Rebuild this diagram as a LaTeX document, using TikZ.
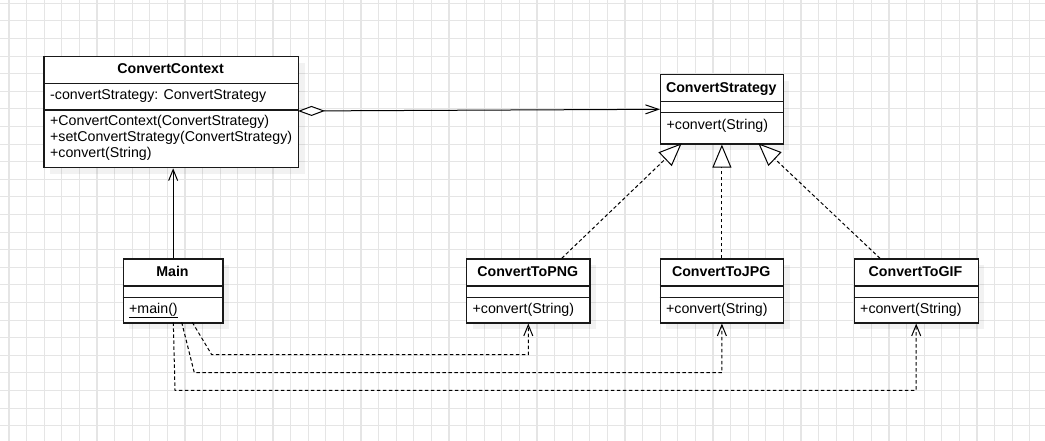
\documentclass[tikz,border=0pt]{standalone}
\usepackage{fontspec}
\setmainfont{Liberation Sans}
\usetikzlibrary{arrows.meta,shadows}

\begin{document}
\begin{tikzpicture}[x=1pt,y=-1pt,
  font=\fontsize{14.2}{16}\selectfont,
  gridline/.style={draw=black!10, line width=1.1pt},
  classbox/.style={draw=black!90, line width=1.3pt, fill=white, inner sep=0pt,
    anchor=north west,
    general shadow={fill=black, opacity=0.05, shadow xshift=6pt, shadow yshift=-6pt}},
  divider/.style={draw=black!90, line width=1.3pt},
  classname/.style={font=\fontsize{14.2}{16}\selectfont\bfseries, inner sep=0pt,
    text height=10.5pt, text depth=3pt},
  member/.style={anchor=west, inner sep=0pt, text height=10.5pt, text depth=3pt},
  connector/.style={draw=black, line width=1pt},
  dashedline/.style={connector, dash pattern=on 3.5pt off 2.5pt},
  openhead/.style={-{Straight Barb[length=11pt,width=9pt]}},
  realizes/.style={-{Triangle[fill=white,length=23pt,width=19pt]}},
]
% canvas and background grid
\useasboundingbox (0,0) rectangle (1045,441);
\fill[white] (0,0) rectangle (1045,441);
\foreach \i in {0,...,59} \draw[gridline] ({9+17.6*\i},0) -- ({9+17.6*\i},441);
\foreach \j in {0,...,24} \draw[gridline] (0,{3.3+17.6*\j}) -- (1045,{3.3+17.6*\j});

% ---- ConvertContext ----
\node[classbox, minimum width=254.7pt, minimum height=111pt] (ctx) at (43.3,56) {};
\draw[divider] (43.3,83.3) -- (298,83.3);
\draw[divider] (43.3,110) -- (298,110);
\node[classname] (ctxname) at (170.6,69.7) {ConvertContext};
\node[member] (ctxattr) at (50,96) {-convertStrategy: ConvertStrategy};
\node[member] (ctxm1) at (50,121.7) {+ConvertContext(ConvertStrategy)};
\node[member] (ctxm2) at (50,137.7) {+setConvertStrategy(ConvertStrategy)};
\node[member] (ctxm3) at (50,154) {+convert(String)};

% ---- ConvertStrategy ----
\node[classbox, minimum width=122.7pt, minimum height=69.3pt] (strat) at (660,74) {};
\draw[divider] (660,101.7) -- (782.7,101.7);
\draw[divider] (660,112.3) -- (782.7,112.3);
\node[classname] (stratname) at (721.3,88.5) {ConvertStrategy};
\node[member] (stratm) at (666.5,126) {+convert(String)};

% ---- Main ----
\node[classbox, minimum width=99.6pt, minimum height=64pt] (main) at (122.7,258.3) {};
\draw[divider] (122.7,286) -- (222.3,286);
\draw[divider] (122.7,297.3) -- (222.3,297.3);
\node[classname] (mainname) at (172.5,272.5) {Main};
\node[member] (mainm) at (129,309.5) {\underline{+main()}};

% ---- ConvertToPNG ----
\node[classbox, minimum width=123.3pt, minimum height=64pt] (png) at (466,258.3) {};
\draw[divider] (466,286) -- (589.3,286);
\draw[divider] (466,297.3) -- (589.3,297.3);
\node[classname] (pngname) at (527.7,272.5) {ConvertToPNG};
\node[member] (pngm) at (472.5,309.5) {+convert(String)};

% ---- ConvertToJPG ----
\node[classbox, minimum width=123.3pt, minimum height=64pt] (jpg) at (659.6,258.3) {};
\draw[divider] (659.6,286) -- (782.9,286);
\draw[divider] (659.6,297.3) -- (782.9,297.3);
\node[classname] (jpgname) at (721.2,272.5) {ConvertToJPG};
\node[member] (jpgm) at (666,309.5) {+convert(String)};

% ---- ConvertToGIF ----
\node[classbox, minimum width=123.9pt, minimum height=64pt] (gif) at (853.6,258.3) {};
\draw[divider] (853.6,286) -- (977.5,286);
\draw[divider] (853.6,297.3) -- (977.5,297.3);
\node[classname] (gifname) at (915.5,272.5) {ConvertToGIF};
\node[member] (gifm) at (860,309.5) {+convert(String)};

% ---- aggregation: ConvertContext <>-- ConvertStrategy ----
\coordinate (aggA) at (298,111);
\coordinate (aggB) at (660,109.3);
\draw[connector, {Diamond[fill=white,length=27pt,width=10pt]}-{Straight Barb[length=13pt,width=9pt]}]
  (aggA) -- (aggB);

% ---- association: Main --> ConvertContext ----
\draw[connector, openhead] (main.north) -- (main.north |- ctx.south);

% ---- realizations ----
\coordinate (pngtop) at (561.7,258.3);
\coordinate (strbotL) at (681.7,143.3);
\coordinate (giftop) at (880,258.3);
\coordinate (strbotR) at (758.3,143.3);
\draw[dashedline, realizes] (pngtop) -- (strbotL);
\draw[dashedline, realizes] (jpg.north) -- (jpg.north |- strat.south);
\draw[dashedline, realizes] (giftop) -- (strbotR);

% ---- dependencies from Main ----
\coordinate (mainA) at (192.3,322.3);
\coordinate (mainB) at (181.7,322.3);
\coordinate (mainC) at (173.3,322.3);
\draw[dashedline, openhead] (mainA) -- (211.7,354.7) -- (png.south |- 0,354.7) -- (png.south);
\draw[dashedline, openhead] (mainB) -- (194.3,372.7) -- (jpg.south |- 0,372.7) -- (jpg.south);
\draw[dashedline, openhead] (mainC) -- (175,390.3) -- (gif.south |- 0,390.3) -- (gif.south);
\end{tikzpicture}
\end{document}
